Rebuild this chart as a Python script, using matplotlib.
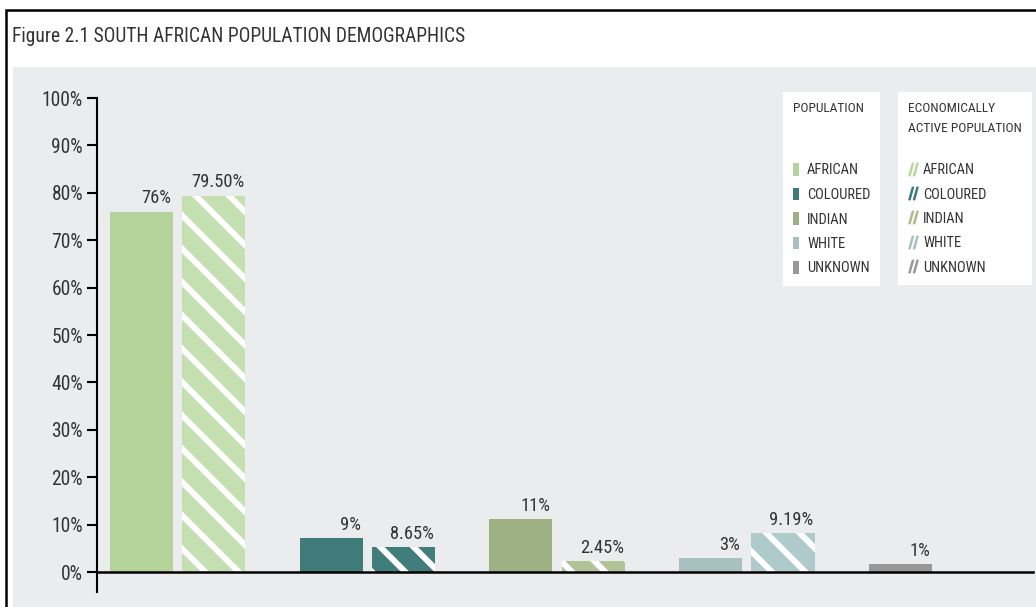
import matplotlib
matplotlib.use("Agg")
import matplotlib.pyplot as plt
from matplotlib.patches import Rectangle, Patch
from matplotlib.lines import Line2D
from matplotlib.textpath import TextPath
from matplotlib.font_manager import FontProperties
from matplotlib.path import Path
import matplotlib.hatch as mhatch
import numpy as np

# ---------------- data ----------------
categories = ['AFRICAN', 'COLOURED', 'INDIAN', 'WHITE', 'UNKNOWN']
population = [76.0, 7.2, 11.2, 2.9, 1.7]          # bar heights as drawn
population_labels = ['76%', '9%', '11%', '3%', '1%']
active = [79.4, 5.3, 2.3, 8.2]                     # economically active (no UNKNOWN bar)
active_labels = ['79.50%', '8.65%', '2.45%', '9.19%']
yticks = [0, 10, 20, 30, 40, 50, 60, 70, 80, 90, 100]
ytick_labels = [f'{v}%' for v in yticks]

pop_colors = ['#b5d49c', '#3f7c79', '#9db182', '#a7c1c0', '#989898']
act_colors = ['#c4dfb0', '#417e7b', '#b0c399', '#afcaca', '#a0a0a0']
legend2_colors = ['#b8d8a0', '#3f7c79', '#a9bd8c', '#a7c1c0', '#999999']

title = 'Figure 2.1 SOUTH AFRICAN POPULATION DEMOGRAPHICS'
legend1_title = 'POPULATION'
legend2_title = 'ECONOMICALLY\nACTIVE POPULATION'

# ---------------- fonts ----------------
plt.rcParams['font.family'] = ['Liberation Sans Narrow', 'Roboto Condensed',
                               'Open Sans Condensed', 'DejaVu Sans']
plt.rcParams['font.stretch'] = 'condensed'
TXT = '#333333'
DPI = 100


def fit_size(text, target_px, grow=1.05):
    """font size (pt) whose ink width is about target_px"""
    prop = FontProperties(family=plt.rcParams['font.family'], stretch='condensed')
    tp = TextPath((0, 0), text, size=10, prop=prop)
    w_px = tp.get_extents().width * DPI / 72
    return 10 * target_px / w_px * grow


# ---------------- custom shallow stripe hatch for '\' ----------------
class ShallowStripes(mhatch.HatchPatternBase):
    NX, NY = 3, 5

    def __init__(self, hatch, density):
        self.on = hatch.count('\\') > 0
        self.ks = np.arange(-2, self.NX + self.NY + 3)
        self.num_lines = len(self.ks) if self.on else 0
        self.num_vertices = self.num_lines * 2

    def set_vertices_and_codes(self, vertices, codes):
        x0, x1 = -0.3, 1.3
        vertices[0::2, 0] = x0
        vertices[0::2, 1] = (self.ks - self.NX * x0) / self.NY
        vertices[1::2, 0] = x1
        vertices[1::2, 1] = (self.ks - self.NX * x1) / self.NY
        codes[0::2] = Path.MOVETO
        codes[1::2] = Path.LINETO


try:
    mhatch._hatch_types = [ShallowStripes if t is mhatch.NorthWestHatch else t
                           for t in mhatch._hatch_types]
    Path.hatch.cache_clear()
except Exception:
    pass

W, H = 1036, 607
fig = plt.figure(figsize=(W / DPI, H / DPI), dpi=DPI, facecolor='white')

# grey panel and frame
fig.patches.append(Rectangle((13 / W, 0), 1.0, (607 - 67) / H,
                             transform=fig.transFigure, facecolor='#ebecee',
                             edgecolor='none', zorder=-10))
fig.patches.append(Rectangle((6 / W, -0.1), 1.2, 1.1 - 10 / H,
                             transform=fig.transFigure, fill=False,
                             edgecolor='black', lw=1.8, zorder=-5))
fig.text(12 / W, 1 - 36 / H, title, fontsize=fit_size(title, 443, grow=1.02), color=TXT,
         va='center', ha='left')

ax = fig.add_axes([97 / W, 1 - 592 / H, (1033 - 97) / W, (592 - 98) / H])
ax.set_facecolor('none')

x = np.arange(len(categories))
width = 0.332
offset = 0.381

ax.bar(x, population, width=width, color=pop_colors, linewidth=0, zorder=2)
with plt.rc_context({'hatch.linewidth': 4.3}):
    xa = x[:len(active)] + offset
    ax.bar(xa, active, width=width, color=act_colors, edgecolor='white',
           linewidth=0, hatch='\\', zorder=2)

lab_fs = fit_size('79.50%', 49)
for xi, v, lab in zip(x, population, population_labels):
    ax.annotate(lab, (xi + width / 2 - 0.01, v), xytext=(0, 6), textcoords='offset points',
                ha='right', va='baseline', fontsize=lab_fs, color=TXT)
for xi, v, lab in zip(xa, active, active_labels):
    ax.annotate(lab, (xi + width / 2 - 0.005, v), xytext=(0, 6), textcoords='offset points',
                ha='right', va='baseline', fontsize=lab_fs, color=TXT)

ax.set_xlim(-0.233, 4.698)
ax.set_ylim(-4.2, 100)
ax.set_yticks(yticks)
ax.set_yticklabels(ytick_labels)
ax.set_xticks([])
ax.tick_params(axis='y', length=7, width=1.5, color='black',
               labelsize=fit_size('100%', 37), labelcolor=TXT, pad=3)
for s in ['top', 'right']:
    ax.spines[s].set_visible(False)
ax.spines['left'].set_linewidth(1.5)
ax.spines['bottom'].set_position(('data', 0))
ax.spines['bottom'].set_linewidth(1.8)

# ---------------- legends ----------------
fs = fit_size('COLOURED', 59)
fs_px = fs * DPI / 72
tfs = fit_size('ACTIVE POPULATION', 113, grow=1.0)


def make_leg(handles, x_px, ttl, p):
    leg = fig.legend(handles, categories, loc='upper left',
                     bbox_to_anchor=(x_px / W, 1 - 92 / H),
                     bbox_transform=fig.transFigure, borderaxespad=0, frameon=True,
                     fancybox=False, framealpha=1, edgecolor='none', facecolor='white',
                     fontsize=fs, title=ttl, title_fontsize=tfs,
                     handlelength=p['hl'] / fs_px, handleheight=p['hh'] / fs_px,
                     handletextpad=p['htp'] / fs_px,
                     labelspacing=p['ls'] / fs_px, borderpad=p['bp'] / fs_px,
                     alignment='left', labelcolor=TXT)
    leg.get_title().set_color(TXT)
    leg.get_title().set_linespacing(p['tls'])
    try:
        leg._legend_box.sep = p['sep'] * 72 / DPI
    except Exception:
        pass
    return leg


def measure(leg):
    fig.canvas.draw()
    r = fig.canvas.get_renderer()
    cs = [H - (t.get_window_extent(r).y0 + t.get_window_extent(r).y1) / 2
          for t in leg.get_texts()]
    return cs[0], (cs[-1] - cs[0]) / (len(cs) - 1)


def calibrated_legend(handles, x_px, ttl, p, first_c, pitch):
    for _ in range(3):
        leg = make_leg(handles, x_px, ttl, p)
        fc, pc = measure(leg)
        p['sep'] += first_c - fc
        p['ls'] += pitch - pc
        leg.remove()
    return make_leg(handles, x_px, ttl, p)


h1 = [Patch(facecolor=c, edgecolor='none') for c in pop_colors]
p1 = dict(hl=6, hh=14, htp=8, ls=10, bp=10, sep=30, tls=1.2)
leg1 = calibrated_legend(h1, 783, legend1_title, p1, 170.5, 24.5)

h2 = [Line2D([], [], color=c, marker='$//$', linestyle='none', markersize=9)
      for c in legend2_colors]
p2 = dict(hl=9, hh=14, htp=6, ls=10, bp=10, sep=12, tls=23 / (tfs * DPI / 72))
leg2 = calibrated_legend(h2, 898, legend2_title, p2, 170.5, 24.3)

fig.savefig('out.png', dpi=DPI, facecolor='white')
